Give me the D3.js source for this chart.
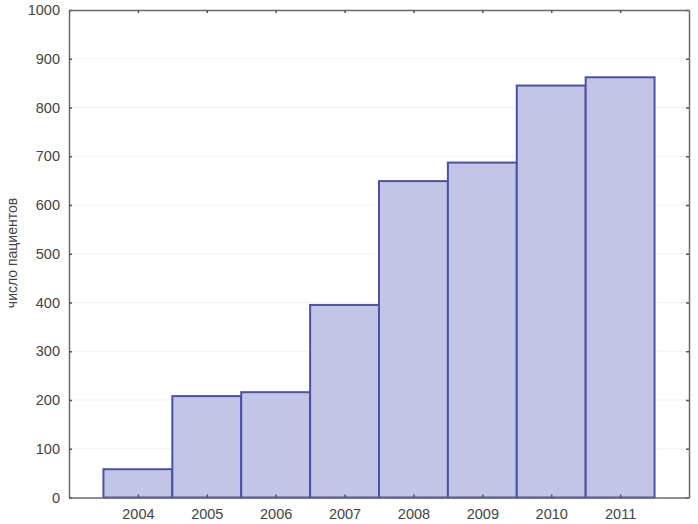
<!DOCTYPE html>
<html>
<head>
<meta charset="utf-8">
<script src="https://cdn.jsdelivr.net/npm/d3@7"></script>
<style>
  body { margin: 0; background: #fff; }
  text { font-family: "Liberation Sans", Arial, sans-serif; }
</style>
</head>
<body>
<svg id="canvas"></svg>
<script>
// Data
let years = [2004, 2005, 2006, 2007, 2008, 2009, 2010, 2011];
let patients = [58, 208, 216, 395, 649, 687, 845, 862];
let yTicks = [0, 100, 200, 300, 400, 500, 600, 700, 800, 900, 1000];

let width = 698;
let height = 524;
let plotLeft = 69, plotRight = 689, plotTop = 10, plotBottom = 497.5;

let canvas = d3.select("#canvas").attr("width", width).attr("height", height);

let xScale = d3.scaleLinear().domain([2003, 2012]).range([plotLeft, plotRight]);
let yScale = d3.scaleLinear().domain([0, 1000]).range([plotBottom, plotTop]);

// faint grid
canvas.append("g")
  .selectAll("line")
  .data(yTicks.slice(1, -1))
  .enter()
  .append("line")
  .attr("x1", plotLeft).attr("x2", plotRight)
  .attr("y1", (d) => yScale(d)).attr("y2", (d) => yScale(d))
  .attr("stroke", "#f1f1f1")
  .attr("stroke-width", 1);

// bars
canvas.append("g")
  .selectAll("rect")
  .data(years)
  .enter()
  .append("rect")
  .attr("x", (d) => xScale(d - 0.5))
  .attr("width", (d) => xScale(d + 0.5) - xScale(d - 0.5))
  .attr("y", (d, i) => yScale(patients[i]))
  .attr("height", (d, i) => yScale(0) - yScale(patients[i]))
  .attr("fill", "#c3c5e6")
  .attr("stroke", "#4a51a6")
  .attr("stroke-width", 2);

// axes
let yAxisLeft = d3.axisLeft(yScale).tickValues(yTicks).tickFormat(d3.format("d")).tickSizeInner(-3).tickSizeOuter(0).tickPadding(9);
let yAxisRight = d3.axisRight(yScale).tickValues(yTicks).tickSizeInner(-3).tickSizeOuter(0).tickFormat("");
let xAxisBottom = d3.axisBottom(xScale).tickValues(years).tickFormat(d3.format("d")).tickSizeInner(-3).tickSizeOuter(0).tickPadding(11);
let xAxisTop = d3.axisTop(xScale).tickValues(years).tickFormat("").tickSizeInner(-3).tickSizeOuter(0);

let styleAxis = (g) => {
  g.selectAll("path").attr("stroke", "#6a6a6a").attr("stroke-width", 1.5);
  g.selectAll("line").attr("stroke", "#555").attr("stroke-width", 1.5);
  g.selectAll("text").attr("fill", "#444").style("font-size", "14.5px");
};

canvas.append("g").attr("transform", "translate(" + plotLeft + ",0)").call(yAxisLeft).call(styleAxis);
canvas.append("g").attr("transform", "translate(" + plotRight + ",0)").call(yAxisRight).call(styleAxis);
canvas.append("g").attr("transform", "translate(0," + plotBottom + ")").call(xAxisBottom).call(styleAxis);
canvas.append("g").attr("transform", "translate(0," + plotTop + ")").call(xAxisTop).call(styleAxis);

canvas.selectAll(".domain").attr("fill", "none");

// y label
canvas.append("text")
  .attr("transform", "translate(17," + 253 + ") rotate(-90)")
  .attr("text-anchor", "middle")
  .attr("fill", "#444")
  .style("font-size", "14px")
  .text("число пациентов");
</script>
</body>
</html>
